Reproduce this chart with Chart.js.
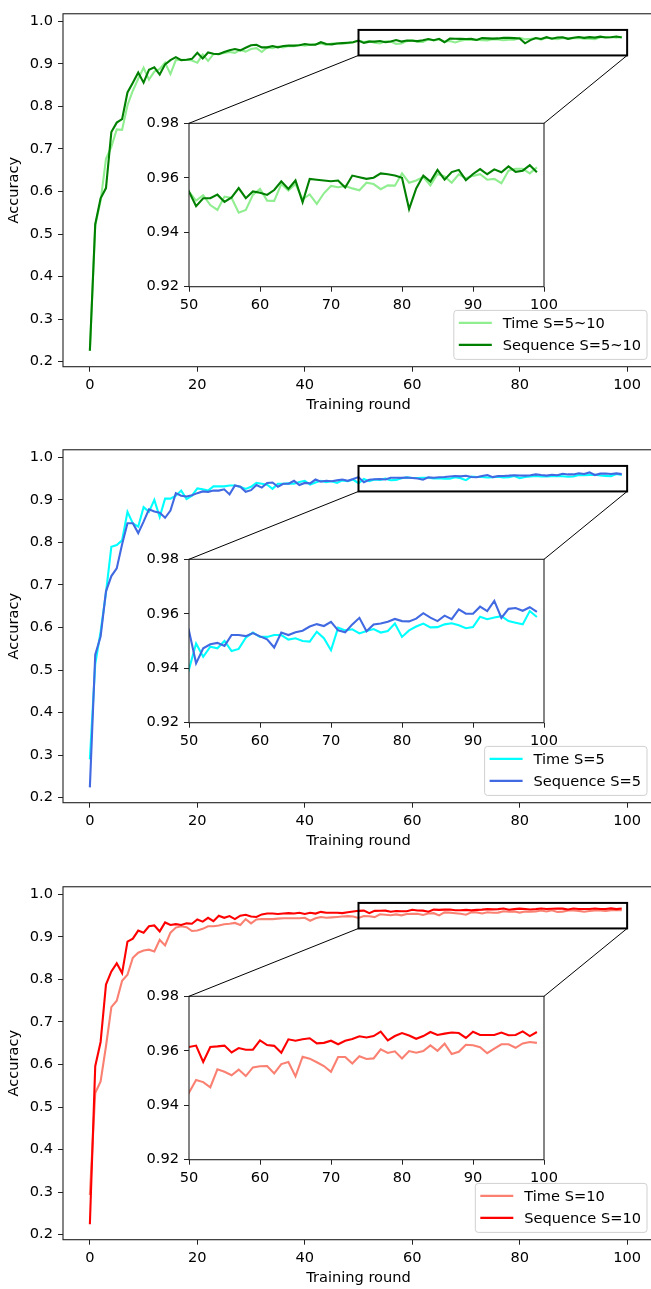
<!DOCTYPE html>
<html lang="en">
<head>
<meta charset="UTF-8">
<title>Accuracy by training round</title>
<script src="https://cdn.jsdelivr.net/npm/chart.js"></script>
<style>
    html, body { margin: 0; padding: 0; background: #fff; overflow: hidden; }
    #page { position: relative; width: 651px; height: 1289px; overflow: hidden; }
    .panel { position: absolute; left: 0; width: 660px; height: 436px; }
    .panel canvas { position: absolute; left: 0; top: 0; }
</style>
</head>
<body>
<div id="page">
    <div class="panel" style="top:0px"><canvas id="main1" width="660" height="436"></canvas><canvas id="zoom1" width="660" height="436"></canvas></div>
    <div class="panel" style="top:436px"><canvas id="main2" width="660" height="436"></canvas><canvas id="zoom2" width="660" height="436"></canvas></div>
    <div class="panel" style="top:873px"><canvas id="main3" width="660" height="436"></canvas><canvas id="zoom3" width="660" height="436"></canvas></div>
</div>

<script>
// training rounds 0..99
const rounds = Array.from({length: 100}, (_, i) => i);

const mainXTicks = [0, 20, 40, 60, 80, 100];
const mainYTicks = [0.2, 0.3, 0.4, 0.5, 0.6, 0.7, 0.8, 0.9, 1.0];
const zoomXTicks = [50, 60, 70, 80, 90, 100];
const zoomYTicks = [0.92, 0.94, 0.96, 0.98];

// S=5~10
const timeA = [
    0.2255, 0.520, 0.578, 0.677, 0.705, 0.746, 0.745, 0.803, 0.837, 0.865,
    0.891, 0.863, 0.882, 0.888, 0.903, 0.876, 0.909, 0.910, 0.910, 0.908,
    0.903, 0.922, 0.907, 0.923, 0.924, 0.926, 0.928, 0.926, 0.933, 0.929,
    0.935, 0.937, 0.928, 0.939, 0.937, 0.941, 0.939, 0.942, 0.942, 0.945,
    0.943, 0.945, 0.947, 0.948, 0.945, 0.948, 0.948, 0.948, 0.949, 0.951,
    0.9549, 0.9516, 0.9536, 0.9500, 0.9482, 0.9531, 0.9526, 0.9472, 0.9482, 0.9537,
    0.9559, 0.9516, 0.9515, 0.9577, 0.9553, 0.9577, 0.9521, 0.9539, 0.9504, 0.9543,
    0.9570, 0.9565, 0.9570, 0.9561, 0.9554, 0.9582, 0.9577, 0.9558, 0.9572, 0.9571,
    0.9616, 0.9582, 0.9590, 0.9603, 0.9572, 0.9614, 0.9605, 0.9582, 0.9613, 0.9598,
    0.9607, 0.9613, 0.9593, 0.9596, 0.9580, 0.9626, 0.9633, 0.9633, 0.9616, 0.9638
];
const seqA = [
    0.2255, 0.523, 0.584, 0.608, 0.740, 0.762, 0.770, 0.833, 0.856, 0.880,
    0.856, 0.886, 0.892, 0.875, 0.899, 0.909, 0.916, 0.909, 0.910, 0.912,
    0.926, 0.913, 0.927, 0.924, 0.923, 0.928, 0.932, 0.935, 0.932, 0.938,
    0.944, 0.945, 0.939, 0.939, 0.942, 0.939, 0.942, 0.943, 0.943, 0.944,
    0.947, 0.945, 0.945, 0.951, 0.947, 0.946, 0.948, 0.949, 0.950, 0.951,
    0.9549, 0.9496, 0.9525, 0.9525, 0.9538, 0.9511, 0.9528, 0.9562, 0.9525, 0.9550,
    0.9545, 0.9537, 0.9555, 0.9587, 0.9559, 0.9590, 0.9510, 0.9596, 0.9593, 0.9590,
    0.9587, 0.9590, 0.9564, 0.9608, 0.9602, 0.9596, 0.9600, 0.9616, 0.9613, 0.9608,
    0.9600, 0.9485, 0.9561, 0.9608, 0.9586, 0.9629, 0.9593, 0.9621, 0.9629, 0.9591,
    0.9614, 0.9632, 0.9613, 0.9631, 0.9620, 0.9642, 0.9622, 0.9626, 0.9646, 0.9620
];

// S=5
const timeB = [
    0.290, 0.514, 0.590, 0.682, 0.790, 0.794, 0.805, 0.872, 0.845, 0.837,
    0.883, 0.872, 0.900, 0.860, 0.903, 0.903, 0.910, 0.922, 0.902, 0.910,
    0.927, 0.925, 0.922, 0.932, 0.932, 0.932, 0.934, 0.934, 0.931, 0.926,
    0.931, 0.940, 0.938, 0.936, 0.926, 0.938, 0.938, 0.939, 0.938, 0.942,
    0.945, 0.936, 0.941, 0.945, 0.942, 0.944, 0.940, 0.946, 0.944, 0.948,
    0.9396, 0.9491, 0.9442, 0.9479, 0.9473, 0.9500, 0.9463, 0.9471, 0.9512, 0.9531,
    0.9515, 0.9515, 0.9522, 0.9522, 0.9505, 0.9510, 0.9500, 0.9498, 0.9534, 0.9510,
    0.9466, 0.9549, 0.9539, 0.9543, 0.9528, 0.9537, 0.9544, 0.9531, 0.9537, 0.9564,
    0.9515, 0.9539, 0.9553, 0.9564, 0.9550, 0.9551, 0.9561, 0.9565, 0.9558, 0.9547,
    0.9551, 0.9589, 0.9580, 0.9586, 0.9591, 0.9573, 0.9567, 0.9561, 0.9610, 0.9588
];
const seqB = [
    0.224, 0.536, 0.579, 0.685, 0.721, 0.739, 0.796, 0.845, 0.845, 0.822,
    0.849, 0.878, 0.873, 0.870, 0.858, 0.875, 0.916, 0.910, 0.908, 0.911,
    0.916, 0.920, 0.919, 0.922, 0.922, 0.925, 0.913, 0.934, 0.931, 0.919,
    0.923, 0.935, 0.929, 0.940, 0.941, 0.931, 0.938, 0.938, 0.945, 0.935,
    0.940, 0.939, 0.948, 0.943, 0.945, 0.944, 0.946, 0.948, 0.945, 0.949,
    0.9537, 0.9418, 0.9473, 0.9488, 0.9493, 0.9482, 0.9522, 0.9522, 0.9518, 0.9529,
    0.9517, 0.9506, 0.9476, 0.9531, 0.9522, 0.9532, 0.9538, 0.9553, 0.9562, 0.9555,
    0.9570, 0.9539, 0.9532, 0.9561, 0.9585, 0.9536, 0.9561, 0.9564, 0.9571, 0.9581,
    0.9573, 0.9572, 0.9582, 0.9602, 0.9586, 0.9573, 0.9593, 0.9580, 0.9616, 0.9600,
    0.9600, 0.9626, 0.9610, 0.9647, 0.9585, 0.9618, 0.9621, 0.9611, 0.9624, 0.9607
];

// S=10
const timeC = [
    0.293, 0.533, 0.560, 0.643, 0.735, 0.750, 0.797, 0.811, 0.851, 0.863,
    0.868, 0.870, 0.866, 0.893, 0.880, 0.910, 0.922, 0.925, 0.923, 0.914,
    0.915, 0.919, 0.925, 0.925, 0.927, 0.930, 0.931, 0.933, 0.928, 0.942,
    0.932, 0.941, 0.942, 0.942, 0.942, 0.943, 0.944, 0.944, 0.944, 0.944,
    0.945, 0.938, 0.944, 0.947, 0.945, 0.946, 0.947, 0.948, 0.949, 0.948,
    0.9446, 0.9493, 0.9485, 0.9466, 0.9532, 0.9523, 0.9510, 0.9531, 0.9507, 0.9539,
    0.9543, 0.9544, 0.9517, 0.9551, 0.9559, 0.9506, 0.9578, 0.9571, 0.9558, 0.9544,
    0.9523, 0.9577, 0.9577, 0.9553, 0.9580, 0.9570, 0.9572, 0.9605, 0.9592, 0.9598,
    0.9572, 0.9599, 0.9593, 0.9599, 0.9620, 0.9600, 0.9626, 0.9588, 0.9596, 0.9622,
    0.9620, 0.9613, 0.9591, 0.9608, 0.9624, 0.9624, 0.9611, 0.9627, 0.9632, 0.9629
];
const seqC = [
    0.2244, 0.596, 0.653, 0.788, 0.819, 0.838, 0.815, 0.889, 0.896, 0.915,
    0.910, 0.925, 0.927, 0.913, 0.934, 0.928, 0.930, 0.928, 0.932, 0.931,
    0.941, 0.936, 0.945, 0.937, 0.950, 0.945, 0.949, 0.942, 0.950, 0.952,
    0.948, 0.947, 0.953, 0.955, 0.955, 0.954, 0.955, 0.956, 0.955, 0.957,
    0.954, 0.957, 0.955, 0.959, 0.957, 0.957, 0.957, 0.956, 0.958, 0.960,
    0.9614, 0.9619, 0.9559, 0.9614, 0.9616, 0.9619, 0.9594, 0.9610, 0.9604, 0.9604,
    0.9638, 0.9621, 0.9618, 0.9593, 0.9642, 0.9637, 0.9642, 0.9646, 0.9627, 0.9629,
    0.9637, 0.9624, 0.9637, 0.9643, 0.9653, 0.9649, 0.9654, 0.9670, 0.9638, 0.9654,
    0.9665, 0.9656, 0.9644, 0.9654, 0.9669, 0.9658, 0.9663, 0.9667, 0.9665, 0.9647,
    0.9670, 0.9658, 0.9658, 0.9658, 0.9667, 0.9657, 0.9658, 0.9671, 0.9654, 0.9669
];

const panels = [
    {n: 1, time: timeA, seq: seqA, timeLabel: 'Time S=5~10', seqLabel: 'Sequence S=5~10', timeColor: '#90ee90', seqColor: '#008000'},
    {n: 2, time: timeB, seq: seqB, timeLabel: 'Time S=5', seqLabel: 'Sequence S=5', timeColor: '#00ffff', seqColor: '#4169e1'},
    {n: 3, time: timeC, seq: seqC, timeLabel: 'Time S=10', seqLabel: 'Sequence S=10', timeColor: '#fa8072', seqColor: '#ff0000'}
];

// layout (canvas coords, every panel canvas is 660x436)
const W = 660, H = 436;
const FONT = 'DejaVu Sans';
const FS = 14.6;
const mainBox = {left: 63, top: 3.3, right: 654, bottom: 366.7};
const zoomBox = {left: 189, top: 123.3, right: 544, bottom: 286.7};
const zoomYWidth = 50, zoomXHeight = 30;

Chart.defaults.font.family = FONT;
Chart.defaults.font.size = FS;
Chart.defaults.color = '#000';

function points(values) {
    return values.map((v, i) => ({x: rounds[i], y: v}));
}

function makeDatasets(p) {
    return [
        {label: p.timeLabel, data: points(p.time), borderColor: p.timeColor, order: 1},
        {label: p.seqLabel, data: points(p.seq), borderColor: p.seqColor, order: 0}
    ].map(d => Object.assign(d, {borderWidth: 2.1, pointRadius: 0, tension: 0, fill: false}));
}

function axis(ticksList, fmt, extra) {
    return Object.assign({
        type: 'linear',
        afterBuildTicks: s => { s.ticks = ticksList.map(v => ({value: v})); },
        ticks: {callback: fmt, autoSkip: false, maxRotation: 0, padding: 5, color: '#000'},
        grid: {display: true, drawOnChartArea: false, drawTicks: true, tickLength: 5, tickColor: '#222', tickWidth: 1},
        border: {display: false}
    }, extra);
}

// box around the plot area, like matplotlib spines
const framePlugin = {
    id: 'frame',
    beforeDatasetsDraw(chart, args, opts) {
        if (!opts.fillWhite) return;
        const a = chart.chartArea;
        chart.ctx.save();
        chart.ctx.fillStyle = '#fff';
        chart.ctx.fillRect(a.left, a.top, a.right - a.left, a.bottom - a.top);
        chart.ctx.restore();
    },
    afterDraw(chart) {
        const a = chart.chartArea, ctx = chart.ctx;
        ctx.save();
        ctx.strokeStyle = '#222';
        ctx.lineWidth = 1.1;
        ctx.strokeRect(a.left, a.top, a.right - a.left, a.bottom - a.top);
        ctx.restore();
    }
};

// rectangle showing the zoomed region
const zoomRectPlugin = {
    id: 'zoomRect',
    afterDatasetsDraw(chart) {
        const x = chart.scales.x, y = chart.scales.y, ctx = chart.ctx;
        const x0 = x.getPixelForValue(50), x1 = x.getPixelForValue(100);
        const y0 = y.getPixelForValue(0.98), y1 = y.getPixelForValue(0.92);
        ctx.save();
        ctx.strokeStyle = '#000';
        ctx.lineWidth = 2;
        ctx.strokeRect(x0, y0, x1 - x0, y1 - y0);
        ctx.restore();
    }
};

// legend in the lower right corner of the plot area
const cornerLegend = {
    id: 'cornerLegend',
    afterDraw(chart) {
        const ctx = chart.ctx, a = chart.chartArea;
        const sets = chart.data.datasets;
        ctx.save();
        ctx.font = FS + 'px "' + FONT + '"';
        const textW = Math.max(...sets.map(d => ctx.measureText(d.label).width));
        const boxW = 5 + 33 + 11 + textW + 6;
        const boxH = 49;
        const right = a.right - 7, bottom = a.bottom - 7.3;
        const left = right - boxW, top = bottom - boxH;
        ctx.beginPath();
        ctx.roundRect(left, top, boxW, boxH, 3);
        ctx.fillStyle = 'rgba(255,255,255,0.8)';
        ctx.fill();
        ctx.strokeStyle = '#d0d0d0';
        ctx.lineWidth = 1;
        ctx.stroke();
        sets.forEach((d, i) => {
            const yy = top + 12.5 + i * 22;
            ctx.beginPath();
            ctx.moveTo(left + 5, yy);
            ctx.lineTo(left + 38, yy);
            ctx.strokeStyle = d.borderColor;
            ctx.lineWidth = 2.1;
            ctx.stroke();
            ctx.fillStyle = '#000';
            ctx.textBaseline = 'middle';
            ctx.textAlign = 'left';
            ctx.fillText(d.label, left + 49, yy + 1);
        });
        ctx.restore();
    }
};

panels.forEach(p => {
    const main = new Chart(document.getElementById('main' + p.n), {
        type: 'line',
        data: {datasets: makeDatasets(p)},
        options: {
            responsive: false,
            animation: false,
            events: [],
            layout: {padding: {left: 0, top: mainBox.top, right: W - mainBox.right, bottom: 0}},
            plugins: {legend: {display: false}, tooltip: {enabled: false}},
            scales: {
                x: axis(mainXTicks, v => String(v), {
                    min: -5, max: 105,
                    afterFit: s => { s.height = H - mainBox.bottom; },
                    title: {display: true, text: 'Training round', padding: {top: 4, bottom: 22.5}}
                }),
                y: axis(mainYTicks, v => v.toFixed(1), {
                    min: 0.188, max: 1.018,
                    afterFit: s => { s.width = mainBox.left; },
                    title: {display: true, text: 'Accuracy', padding: {top: 5.3, bottom: 0}}
                })
            }
        },
        plugins: [framePlugin, zoomRectPlugin, cornerLegend]
    });

    // connector lines from the rectangle to the inset
    const connectors = {
        id: 'connectors',
        afterDraw(chart) {
            const ctx = chart.ctx, a = chart.chartArea;
            const mx = main.scales.x, my = main.scales.y;
            ctx.save();
            ctx.strokeStyle = '#000';
            ctx.lineWidth = 1;
            ctx.beginPath();
            ctx.moveTo(mx.getPixelForValue(50), my.getPixelForValue(0.92));
            ctx.lineTo(a.left, a.top);
            ctx.moveTo(mx.getPixelForValue(100), my.getPixelForValue(0.92));
            ctx.lineTo(a.right, a.top);
            ctx.stroke();
            ctx.restore();
        }
    };

    new Chart(document.getElementById('zoom' + p.n), {
        type: 'line',
        data: {datasets: makeDatasets(p)},
        options: {
            responsive: false,
            animation: false,
            events: [],
            layout: {padding: {
                left: zoomBox.left - zoomYWidth,
                top: zoomBox.top,
                right: W - zoomBox.right,
                bottom: H - zoomBox.bottom - zoomXHeight
            }},
            plugins: {legend: {display: false}, tooltip: {enabled: false}, frame: {fillWhite: true}},
            scales: {
                x: axis(zoomXTicks, v => String(v), {
                    min: 50, max: 100,
                    afterFit: s => { s.height = zoomXHeight; }
                }),
                y: axis(zoomYTicks, v => v.toFixed(2), {
                    min: 0.92, max: 0.98,
                    afterFit: s => { s.width = zoomYWidth; }
                })
            }
        },
        plugins: [framePlugin, connectors]
    });
});
</script>
</body>
</html>
